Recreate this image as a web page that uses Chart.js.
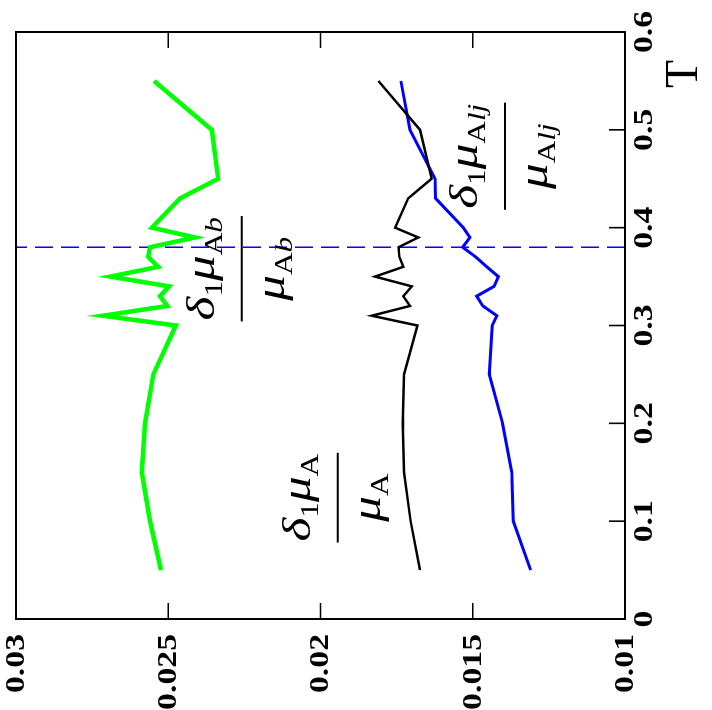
<!DOCTYPE html>
<html>
<head>
<meta charset="utf-8">
<script src="https://cdn.jsdelivr.net/npm/chart.js@4.4.0/dist/chart.umd.min.js"></script>
<style>
  html, body { margin: 0; padding: 0; background: #fff; overflow: hidden; }
  #wrap {
    position: absolute; left: 0; top: 0; width: 710px; height: 712px;
    transform-origin: 0 0;
    transform: translateY(710px) rotate(-90deg);
  }
  canvas { display: block; }
</style>
</head>
<body>
<div id="wrap"><canvas id="c" width="710" height="712"></canvas></div>
<script>
// ---- data ----
const tValues = [0.05, 0.10, 0.15, 0.20, 0.25, 0.30, 0.31, 0.32, 0.33, 0.34, 0.35, 0.36, 0.37, 0.38, 0.39, 0.40, 0.43, 0.45, 0.50, 0.55];
// δ1μAb / μAb (green)
const ratioAb  = [0.02524, 0.02560, 0.02587, 0.02576, 0.02549, 0.02475, 0.02715, 0.02503, 0.02527, 0.02497, 0.02691, 0.02533, 0.02566, 0.02560, 0.02412, 0.02554, 0.02461, 0.02336, 0.02357, 0.02547];
// δ1μA / μA (black)
const ratioA   = [0.01673, 0.01704, 0.01726, 0.01730, 0.01726, 0.01682, 0.01832, 0.01706, 0.01728, 0.01700, 0.01821, 0.01728, 0.01741, 0.01744, 0.01679, 0.01755, 0.01712, 0.01635, 0.01673, 0.01810];
// δ1μAlj / μAlj (blue)
const ratioAlj = [0.01310, 0.01367, 0.01372, 0.01402, 0.01446, 0.01436, 0.01421, 0.01467, 0.01487, 0.01430, 0.01416, 0.01454, 0.01490, 0.01533, 0.01509, 0.01531, 0.01622, 0.01624, 0.01706, 0.01736];
const transitionT = 0.38;
const tTicks = [0, 0.1, 0.2, 0.3, 0.4, 0.5, 0.6];
const tTickLabels = ['0', '0.1', '0.2', '0.3', '0.4', '0.5', '0.6'];
const vTicks = [0.01, 0.015, 0.02, 0.025, 0.03];
const vTickLabels = ['0.01', '0.015', '0.02', '0.025', '0.03'];
const axisTitleT = 'T';

// ---- build datasets ----
const pts = arr => tValues.map((t, i) => ({ x: t, y: arr[i] }));

const SERIF = '"Liberation Serif", "Times New Roman", serif';
const STRETCH = 1.25;

// fraction labels: anchor (T centre, value at bar)
const fractions = [
  { t: 0.358, v: 0.02259, sub: [['A', ''], ['b', 'italic ']] },
  { t: 0.124, v: 0.01943, sub: [['A', '']] },
  { t: 0.473, v: 0.01394, sub: [['A', ''], ['lj', 'italic ']] }
];

function drawParts(ctx, parts, cx, baseY) {
  let w = 0;
  parts.forEach(p => { ctx.font = p[1]; w += ctx.measureText(p[0]).width; });
  ctx.save();
  ctx.translate(cx, baseY);
  ctx.scale(STRETCH, 1);
  let x = -w / 2;
  ctx.textAlign = 'left';
  ctx.textBaseline = 'alphabetic';
  parts.forEach(p => { ctx.font = p[1]; ctx.fillText(p[0], x, p[2]); x += ctx.measureText(p[0]).width; });
  ctx.restore();
  return w * STRETCH;
}

const framePlugin = {
  id: 'frame',
  afterDatasetsDraw(chart) {
    const ctx = chart.ctx, a = chart.chartArea;
    const xs = chart.scales.x, ys = chart.scales.y;
    ctx.save();
    ctx.strokeStyle = '#000';
    ctx.lineWidth = 2;
    ctx.strokeRect(a.left, a.top, a.right - a.left, a.bottom - a.top);
    ctx.lineWidth = 1.6;
    ctx.beginPath();
    xs.ticks.forEach(tk => {
      const x = xs.getPixelForValue(tk.value);
      ctx.moveTo(x, a.bottom); ctx.lineTo(x, a.bottom - 16);
    });
    ys.ticks.forEach(tk => {
      const y = ys.getPixelForValue(tk.value);
      ctx.moveTo(a.left, y); ctx.lineTo(a.left + 16, y);
      ctx.moveTo(a.right, y); ctx.lineTo(a.right - 16, y);
    });
    ctx.stroke();

    ctx.fillStyle = '#000';
    ctx.font = 'bold 27px ' + SERIF;
    ys.ticks.forEach((tk, i) => {
      const y = ys.getPixelForValue(tk.value);
      ctx.save();
      ctx.translate(a.left - 15, y);
      ctx.scale(STRETCH, 1);
      ctx.textAlign = 'right'; ctx.textBaseline = 'middle';
      ctx.fillText(vTickLabels[i], 0, 1);
      ctx.restore();
    });
    xs.ticks.forEach((tk, i) => {
      const x = xs.getPixelForValue(tk.value);
      ctx.save();
      ctx.translate(x, a.bottom + 7);
      ctx.scale(STRETCH, 1);
      ctx.textAlign = 'center'; ctx.textBaseline = 'top';
      ctx.fillText(tTickLabels[i], 0, 0);
      ctx.restore();
    });
    ctx.font = '46px ' + SERIF;
    ctx.textAlign = 'center'; ctx.textBaseline = 'middle';
    ctx.fillText(axisTitleT, a.right - 42, a.bottom + 60);

    fractions.forEach(f => {
      const cx = xs.getPixelForValue(f.t);
      const by = ys.getPixelForValue(f.v);
      const big = 'italic 41px ' + SERIF;
      const small = '25px ' + SERIF;
      const num = [['\u03B4', big, 0], ['1', small, 8], ['\u03BC', big, 0]];
      const den = [['\u03BC', big, 0]];
      f.sub.forEach(s => { num.push([s[0], s[1] + '25px ' + SERIF, 8]); den.push([s[0], s[1] + '25px ' + SERIF, 8]); });
      const w = drawParts(ctx, num, cx, by - 28);
      drawParts(ctx, den, cx, by + 42);
      ctx.lineWidth = 2;
      ctx.beginPath();
      ctx.moveTo(cx - w / 2 - 1, by); ctx.lineTo(cx + w / 2 + 1, by);
      ctx.stroke();
    });
    ctx.restore();
  }
};

new Chart(document.getElementById('c'), {
  type: 'line',
  data: {
    datasets: [
      { label: 'δ1μAb/μAb', data: pts(ratioAb), borderColor: '#00ff00', borderWidth: 4.5, pointRadius: 0, tension: 0, fill: false },
      { label: 'δ1μA/μA', data: pts(ratioA), borderColor: '#000000', borderWidth: 2.5, pointRadius: 0, tension: 0, fill: false },
      { label: 'δ1μAlj/μAlj', data: pts(ratioAlj), borderColor: '#0000ff', borderWidth: 3, pointRadius: 0, tension: 0, fill: false },
      { label: 'T transition', data: [{ x: transitionT, y: vTicks[0] }, { x: transitionT, y: vTicks[vTicks.length - 1] }],
        borderColor: '#0000ff', borderWidth: 1.5, borderDash: [18, 8], pointRadius: 0, fill: false }
    ]
  },
  options: {
    responsive: false,
    animation: false,
    events: [],
    layout: { padding: { left: 0, right: 32, top: 16, bottom: 0 } },
    plugins: { legend: { display: false }, tooltip: { enabled: false } },
    scales: {
      x: {
        type: 'linear', min: 0, max: 0.6,
        afterBuildTicks: s => { s.ticks = tTicks.map(v => ({ value: v })); },
        afterFit: s => { s.height = 87; },
        ticks: { display: false },
        grid: { display: false },
        border: { display: false }
      },
      y: {
        type: 'linear', min: 0.01, max: 0.03,
        afterBuildTicks: s => { s.ticks = vTicks.map(v => ({ value: v })); },
        afterFit: s => { s.width = 91; },
        ticks: { display: false },
        grid: { display: false },
        border: { display: false }
      }
    }
  },
  plugins: [framePlugin]
});
</script>
</body>
</html>
